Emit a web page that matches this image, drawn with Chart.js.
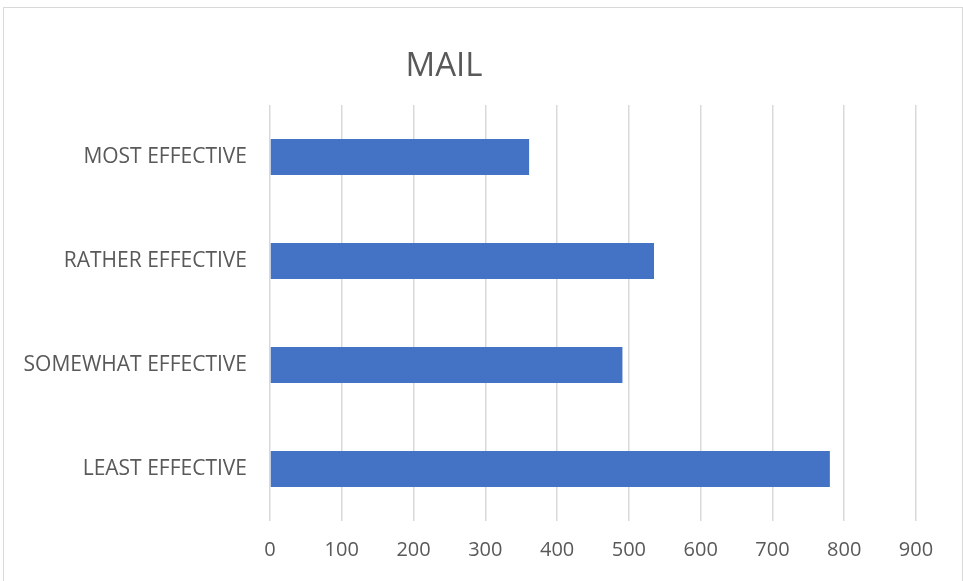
<!DOCTYPE html>
<html>
<head>
<meta charset="utf-8">
<script src="https://cdn.jsdelivr.net/npm/chart.js@4"></script>
<style>
  body { margin: 0; background: #fff; overflow: hidden; }
  #wrap { position: relative; width: 963px; height: 581px; }
  #frame { position: absolute; left: 3px; top: 7px; width: 958px; height: 590px; border: 1px solid #d9d9d9; }
  canvas { position: absolute; left: 0; top: 0; }
</style>
</head>
<body>
<div id="wrap">
  <div id="frame"></div>
  <canvas id="mailChart" width="963" height="581"></canvas>
</div>
<script>
// data
const chartTitle = "MAIL";
const categories = ["MOST EFFECTIVE", "RATHER EFFECTIVE", "SOMEWHAT EFFECTIVE", "LEAST EFFECTIVE"];
const mailValues = [361, 535, 491, 780];
const axisMin = 0;
const axisMax = 900;
const axisStep = 100;

const textColor = "#595959";
const fontFamily = "'Open Sans', sans-serif";

// title is drawn a bit left of centre, as in the original
const titlePlugin = {
    id: 'offsetTitle',
    afterDraw(chart) {
        const ctx = chart.ctx;
        ctx.save();
        ctx.font = "33px " + fontFamily;
        ctx.fillStyle = textColor;
        ctx.textAlign = 'center';
        ctx.textBaseline = 'middle';
        ctx.fillText(chartTitle, 444, 67);
        ctx.restore();
    }
};

new Chart(document.getElementById('mailChart'), {
    type: 'bar',
    data: {
        labels: categories,
        datasets: [{
            label: chartTitle,
            data: mailValues,
            backgroundColor: "#4472C4",
            borderWidth: 0,
            categoryPercentage: 1.0,
            barPercentage: 0.346
        }]
    },
    options: {
        indexAxis: 'y',
        responsive: false,
        animation: false,
        layout: {
            padding: { left: 0, top: 105, right: 47, bottom: 0 }
        },
        plugins: {
            legend: { display: false },
            title: { display: false },
            tooltip: { enabled: false }
        },
        scales: {
            x: {
                min: axisMin,
                max: axisMax,
                ticks: {
                    stepSize: axisStep,
                    color: textColor,
                    padding: 17,
                    font: { family: fontFamily, size: 20 }
                },
                grid: { color: "#d9d9d9", lineWidth: 1.5, drawTicks: false },
                border: { display: false },
                afterFit(scale) { scale.height = 60; }
            },
            y: {
                ticks: {
                    color: textColor,
                    padding: 23,
                    font: { family: fontFamily, size: 21 }
                },
                grid: { display: false, drawTicks: false },
                border: { display: false },
                afterFit(scale) { scale.width = 270; }
            }
        }
    },
    plugins: [titlePlugin]
});
</script>
</body>
</html>
